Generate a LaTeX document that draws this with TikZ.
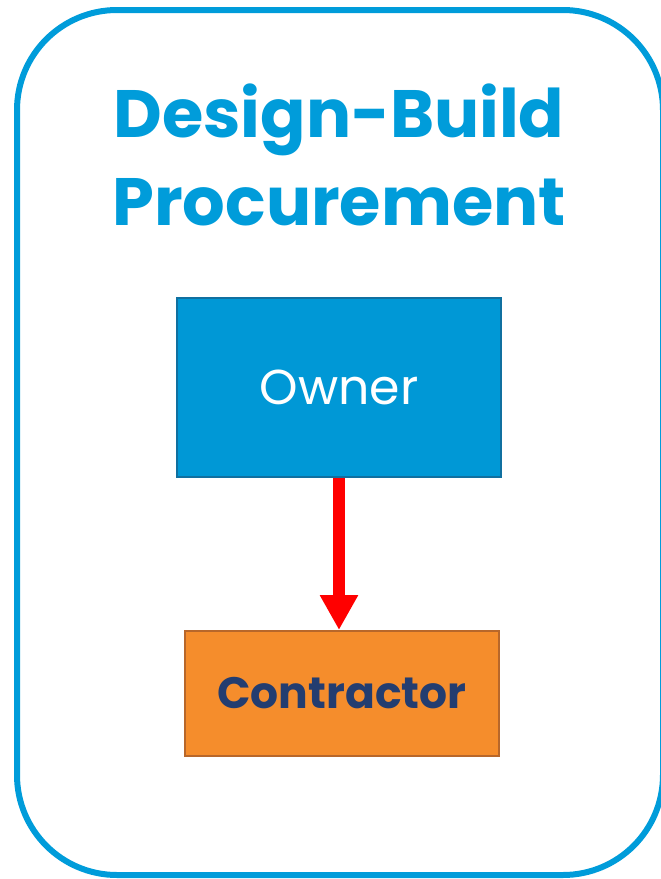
\documentclass[tikz,border=0pt]{standalone}
\usepackage{fontspec}
\setmainfont{Poppins}
\usetikzlibrary{arrows.meta}

\definecolor{frameblue}{RGB}{0,156,218}
\definecolor{ownerblue}{RGB}{0,152,214}
\definecolor{ownerline}{RGB}{16,112,160}
\definecolor{controrange}{RGB}{245,141,44}
\definecolor{contrline}{RGB}{184,103,42}
\definecolor{contrtext}{RGB}{35,61,112}

\tikzset{
  partybox/.style={draw, line width=2pt, inner sep=0pt, align=center},
  ownerbox/.style={partybox, fill=ownerblue, draw=ownerline, text=white,
    minimum width=324pt, minimum height=179pt, font=\fontsize{49}{52}\selectfont},
  contrbox/.style={partybox, fill=controrange, draw=contrline, text=contrtext,
    minimum width=314pt, minimum height=125pt, font=\bfseries\fontsize{44}{50}\selectfont},
  award/.style={red, line width=12pt, -{Triangle[width=36pt,length=35pt]}}
}

\begin{document}
\begin{tikzpicture}[x=1pt,y=1pt]
  \useasboundingbox (0,0) rectangle (661,-879);

  \draw[frameblue, line width=6pt, rounded corners=100pt] (17,-10) rectangle (663,-875);

  \node (title) [text=frameblue, align=center, font=\bfseries\fontsize{67}{88}\selectfont]
    at (339,-155) {Design-Build\\Procurement};

  \node (owner) [ownerbox] at (339,-387.5) {Owner};
  \node (contractor) [contrbox] at (342,-693.5) {Contractor};

  \draw[award] (owner.south) -- (owner.south |- contractor.north);
\end{tikzpicture}
\end{document}
